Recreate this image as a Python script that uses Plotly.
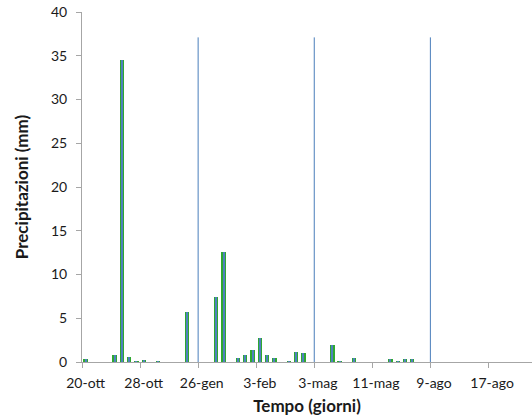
import plotly.graph_objects as go

# Daily precipitation (mm), 62 day-categories in four 16/16/16/14-day periods
precip = [
    0.3, 0, 0, 0, 0.8, 34.5, 0.6, 0.1, 0.15, 0, 0.05, 0, 0, 0, 5.7, 0,
    0, 0, 7.4, 12.6, 0, 0.5, 0.8, 1.4, 2.7, 0.75, 0.5, 0, 0.1, 1.2, 1.05, 0,
    0, 0, 1.9, 0.1, 0, 0.5, 0, 0, 0, 0, 0.35, 0.1, 0.35, 0.35, 0, 0,
    0, 0, 0, 0, 0, 0, 0, 0, 0, 0, 0, 0, 0, 0,
]
tick_labels = ["20-ott", "28-ott", "26-gen", "3-feb", "3-mag", "11-mag", "9-ago", "17-ago"]
tick_every = 8
separator_index = [16, 32, 48]
separator_height = 37.1

n = len(precip)
x_centers = [i + 0.5 for i in range(n)]
bar_values = [v if v > 0 else None for v in precip]

fig = go.Figure()
# green outline (outer bar) and blue core (inner bar)
fig.add_trace(go.Bar(
    x=x_centers, y=bar_values, width=0.6,
    marker=dict(color="#2fa82f", line=dict(width=0)),
    showlegend=False,
))
fig.add_trace(go.Bar(
    x=x_centers, y=bar_values, width=0.28,
    marker=dict(color="#4f81bd", line=dict(width=0)),
    showlegend=False, hoverinfo="skip",
))

sx, sy = [], []
for s in separator_index:
    sx += [s, s, None]
    sy += [0, separator_height, None]
fig.add_trace(go.Scatter(
    x=sx, y=sy, mode="lines",
    line=dict(color="#4a7ebb", width=1), showlegend=False, hoverinfo="skip",
))

font_family = "Lato, 'Open Sans', sans-serif"
fig.update_layout(
    width=532, height=417,
    margin=dict(l=82, r=0, t=12, b=55),
    plot_bgcolor="white", paper_bgcolor="white",
    font=dict(family=font_family, size=14, color="#1a1a1a"),
    barmode="overlay",
    bargap=0,
    xaxis=dict(
        range=[0, n],
        tickmode="array",
        tickvals=[i * tick_every + 0.5 for i in range(len(tick_labels))],
        ticktext=tick_labels,
        ticks="", showgrid=False, zeroline=False,
        showline=True, linecolor="#a6a6a6", linewidth=1,
        ticklabelstandoff=8,
        minor=dict(tickvals=[i * tick_every for i in range(len(tick_labels))],
                   ticks="outside", ticklen=5, tickcolor="#a6a6a6", tickwidth=1, showgrid=False),
        title=dict(text="<b>Tempo (giorni)</b>", font=dict(size=17), standoff=10),
        tickfont=dict(size=14),
    ),
    yaxis=dict(
        range=[0, 40], dtick=5, tick0=0,
        ticks="outside", ticklen=5, tickcolor="#a6a6a6",
        showgrid=False, zeroline=False,
        showline=True, linecolor="#a6a6a6", linewidth=1,
        ticklabelstandoff=6,
        title=dict(text="<b>Precipitazioni (mm)</b>", font=dict(size=17), standoff=18),
        tickfont=dict(size=14),
    ),
)

fig.write_html("out.html", config={"displayModeBar": False},
               post_script="document.body.style.margin='0';")
